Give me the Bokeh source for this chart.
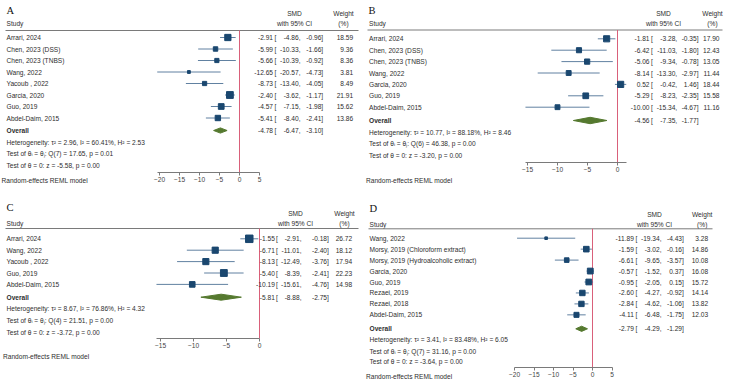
import math
from bokeh.plotting import figure
from bokeh.models import Range1d, LinearAxis, FixedTicker
from bokeh.layouts import gridplot
from bokeh.embed import file_html
from bokeh.resources import INLINE
from bokeh.core.properties import value

# ---------------- data ----------------
# Panel A
a_studies = ["Arrari, 2024", "Chen, 2023 (DSS)", "Chen, 2023 (TNBS)", "Wang, 2022",
             "Yacoub , 2022", "Garcia, 2020", "Guo, 2019", "Abdel-Daim, 2015"]
a_smd = [-2.91, -5.99, -5.66, -12.65, -8.73, -2.40, -4.57, -5.41]
a_lo = [-4.86, -10.33, -10.39, -20.57, -13.40, -3.62, -7.15, -8.40]
a_hi = [-0.96, -1.66, -0.92, -4.73, -4.05, -1.17, -1.98, -2.41]
a_wt = [18.59, 9.36, 8.36, 3.81, 8.49, 21.91, 15.62, 13.86]
a_overall = [-4.78, -6.47, -3.10]
a_stats = dict(tau2=2.96, i2=60.41, h2=2.53, df=7, q=17.65, qp=0.01, z=-5.58, zp=0.00)
a_ticks = [-20, -15, -10, -5, 0, 5]

# Panel B
b_studies = ["Arrari, 2024", "Chen, 2023 (DSS)", "Chen, 2023 (TNBS)", "Wang, 2022",
             "Garcia, 2020", "Guo, 2019", "Abdel-Daim, 2015"]
b_smd = [-1.81, -6.42, -5.06, -8.14, 0.52, -5.29, -10.00]
b_lo = [-3.28, -11.03, -9.34, -13.30, -0.42, -8.23, -15.34]
b_hi = [-0.35, -1.80, -0.78, -2.97, 1.46, -2.35, -4.67]
b_wt = [17.90, 12.43, 13.05, 11.44, 18.44, 15.58, 11.16]
b_overall = [-4.56, -7.35, -1.77]
b_stats = dict(tau2=10.77, i2=88.18, h2=8.46, df=6, q=46.38, qp=0.00, z=-3.20, zp=0.00)
b_ticks = [-15, -10, -5, 0]

# Panel C
c_studies = ["Arrari, 2024", "Wang, 2022", "Yacoub , 2022", "Guo, 2019", "Abdel-Daim, 2015"]
c_smd = [-1.55, -6.71, -8.13, -5.40, -10.19]
c_lo = [-2.91, -11.01, -12.49, -8.39, -15.61]
c_hi = [-0.18, -2.40, -3.76, -2.41, -4.76]
c_wt = [26.72, 18.12, 17.94, 22.23, 14.98]
c_overall = [-5.81, -8.88, -2.75]
c_stats = dict(tau2=8.67, i2=76.86, h2=4.32, df=4, q=21.51, qp=0.00, z=-3.72, zp=0.00)
c_ticks = [-15, -10, -5, 0]

# Panel D
d_studies = ["Wang, 2022", "Morsy, 2019 (Chloroform extract)", "Morsy, 2019 (Hydroalcoholic extract)",
             "Garcia, 2020", "Guo, 2019", "Rezaei, 2019", "Rezaei, 2018", "Abdel-Daim, 2015"]
d_smd = [-11.89, -1.59, -6.61, -0.57, -0.95, -2.60, -2.84, -4.11]
d_lo = [-19.34, -3.02, -9.65, -1.52, -2.05, -4.27, -4.62, -6.48]
d_hi = [-4.43, -0.16, -3.57, 0.37, 0.15, -0.92, -1.06, -1.75]
d_wt = [3.28, 14.86, 10.08, 16.08, 15.72, 14.14, 13.82, 12.03]
d_overall = [-2.79, -4.29, -1.29]
d_stats = dict(tau2=3.41, i2=83.48, h2=6.05, df=7, q=31.16, qp=0.00, z=-3.64, zp=0.00)
d_ticks = [-20, -15, -10, -5, 0, 5]

# ---------------- style / layout ----------------
FONT = "Liberation Sans"
SERIF = "Liberation Serif"
FS = "6.6px"
TC = "#2e2e2e"
NAVY = "#1a476f"
CI_C = "#4f7396"
GREEN = "#55792f"
RED = "#d9607a"
GRAY = "#7a7a7a"
W, H = 365, 195

LAY_A = dict(zero=239, scale=4.0, axis_y=172, letter=(6, 10), hdr1=13, hdr2=22.5, rule=(5, 358, 30),
             row0=37, step=11.5, overall=130, stats=(141.7, 153.3, 165), name_x=6, rand=(1, 180),
             eff=272.5, brk=274, lo=300, hi=322.7, w=352.7, smd_c=294, w_c=343, dh=2.6)
LAY_B = dict(zero=252, scale=6.0, axis_y=162, letter=(3, 10), hdr1=13, hdr2=23, rule=(2, 357, 29.5),
             row0=38.3, step=11.4, overall=120, stats=(131.5, 143.3, 155), name_x=3.5, rand=(0.5, 180),
             eff=284, brk=285.5, lo=311.7, hi=333, w=354, smd_c=298, w_c=347, dh=3.2)
LAY_C = dict(zero=259, scale=6.6, axis_y=143, letter=(6, 12), hdr1=18, hdr2=28, rule=(5, 358, 33),
             row0=43.3, step=11.4, overall=101.7, stats=(113.3, 125, 136.7), name_x=6, rand=(2.5, 160.7),
             eff=274.3, brk=275.5, lo=301, hi=328.3, w=351.7, smd_c=295, w_c=344, dh=3.0)
LAY_D = dict(zero=227, scale=3.9, axis_y=172, letter=(4, 13.3), hdr1=19.3, hdr2=29.3, rule=(3, 347, 33.3),
             row0=42.7, step=10.95, overall=133.3, stats=(144.3, 155.7, 166), name_x=4, rand=(0.5, 180.7),
             eff=268.3, brk=270, lo=296, hi=318.3, w=342.7, smd_c=289, w_c=336.7, dh=2.6)


def txt(p, xs, ys, texts, align="left", style="normal", color=TC, size=FS, font=FONT):
    p.text(x=xs, y=ys, text=texts, text_align=align, text_baseline="middle",
           text_font=value(font), text_font_size=size, text_font_style=style, text_color=color)


def make_panel(letter, studies, smd, lo, hi, wt, overall, st, ticks, L):
    zero, scale, ay = L["zero"], L["scale"], L["axis_y"]
    X = lambda px: (px - zero) / scale
    p = figure(width=W, height=H, x_range=Range1d(X(0), X(W)), y_range=Range1d(H, 0),
               x_axis_type=None, y_axis_type=None, toolbar_location=None, output_backend="svg",
               min_border_left=0, min_border_right=0, min_border_top=0, min_border_bottom=0,
               outline_line_color=None, background_fill_color="white", border_fill_color="white")
    n = len(studies)
    ys = [L["row0"] + i * L["step"] for i in range(n)]

    # header
    txt(p, [X(L["letter"][0])], [L["letter"][1]], [letter], font=SERIF, size="10.5px", color="#111")
    txt(p, [X(L["name_x"])], [L["hdr2"]], ["Study"])
    txt(p, [X(L["smd_c"]), X(L["smd_c"])], [L["hdr1"], L["hdr2"]], ["SMD", "with 95% CI"], align="center")
    txt(p, [X(L["w_c"]), X(L["w_c"])], [L["hdr1"], L["hdr2"]], ["Weight", "(%)"], align="center")
    rx0, rx1, ry = L["rule"]
    p.segment(x0=[X(rx0)], x1=[X(rx1)], y0=[ry], y1=[ry], line_color=GRAY, line_width=1)

    # null line
    p.segment(x0=[0], x1=[0], y0=[ry], y1=[ay], line_color=RED, line_width=1)

    # study rows
    p.segment(x0=lo, x1=hi, y0=ys, y1=ys, line_color=CI_C, line_width=0.9)
    p.scatter(x=smd, y=ys, marker="square", size=[1.45 * math.sqrt(w) for w in wt],
              fill_color=NAVY, line_color=NAVY)
    txt(p, [X(L["name_x"])] * n, ys, studies)
    txt(p, [X(L["eff"])] * n, ys, [f"{v:.2f}" for v in smd], align="right")
    txt(p, [X(L["brk"])] * n, ys, ["["] * n)
    txt(p, [X(L["lo"])] * n, ys, [f"{v:.2f}," for v in lo], align="right")
    txt(p, [X(L["hi"])] * n, ys, [f"{v:.2f}]" for v in hi], align="right")
    txt(p, [X(L["w"])] * n, ys, [f"{v:.2f}" for v in wt], align="right")

    # overall
    oy = L["overall"]
    oe, ol, oh = overall
    dh = L["dh"]
    p.patch(x=[ol, oe, oh, oe], y=[oy, oy - dh, oy, oy + dh], fill_color=GREEN, line_color=GREEN)
    txt(p, [X(L["name_x"])], [oy], ["Overall"], style="bold")
    txt(p, [X(L["eff"])], [oy], [f"{oe:.2f}"], align="right")
    txt(p, [X(L["brk"])], [oy], ["["])
    txt(p, [X(L["lo"])], [oy], [f"{ol:.2f},"], align="right")
    txt(p, [X(L["hi"])], [oy], [f"{oh:.2f}]"], align="right")

    lines = [
        f"Heterogeneity: \u03c4\u00b2 = {st['tau2']:.2f}, I\u00b2 = {st['i2']:.2f}%, H\u00b2 = {st['h2']:.2f}",
        f"Test of \u03b8\u1d62 = \u03b8\u2c7c: Q({st['df']}) = {st['q']:.2f}, p = {st['qp']:.2f}",
        f"Test of \u03b8 = 0: z = {st['z']:.2f}, p = {st['zp']:.2f}",
    ]
    txt(p, [X(L["name_x"])] * 3, list(L["stats"]), lines)

    # footnote
    rxp, ryp = L["rand"]
    txt(p, [X(rxp)], [ryp], ["Random-effects REML model"])

    # x axis (drawn inside the frame at the axis row)
    lo_b = min(ticks[0], min(lo))
    hi_b = max(ticks[-1], max(hi))
    ax = LinearAxis(ticker=FixedTicker(ticks=ticks), bounds=(lo_b, hi_b), fixed_location=ay)
    ax.axis_line_color = GRAY
    ax.major_tick_line_color = GRAY
    ax.major_tick_in = 0
    ax.major_tick_out = 3
    ax.minor_tick_in = 0
    ax.minor_tick_out = 0
    ax.major_label_standoff = 1
    ax.major_label_text_font = FONT
    ax.major_label_text_font_size = FS
    ax.major_label_text_color = "#444"
    p.add_layout(ax, "below")
    return p


pa = make_panel("A", a_studies, a_smd, a_lo, a_hi, a_wt, a_overall, a_stats, a_ticks, LAY_A)
pb = make_panel("B", b_studies, b_smd, b_lo, b_hi, b_wt, b_overall, b_stats, b_ticks, LAY_B)
pc = make_panel("C", c_studies, c_smd, c_lo, c_hi, c_wt, c_overall, c_stats, c_ticks, LAY_C)
pd = make_panel("D", d_studies, d_smd, d_lo, d_hi, d_wt, d_overall, d_stats, d_ticks, LAY_D)

grid = gridplot([[pa, pb], [pc, pd]], toolbar_location=None)
open("out.html", "w").write(file_html(grid, INLINE))
